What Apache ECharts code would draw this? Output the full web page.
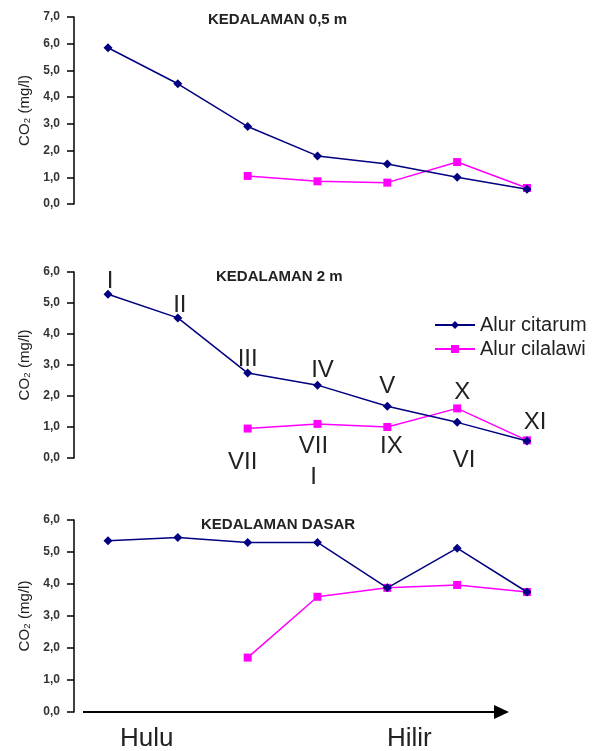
<!DOCTYPE html>
<html><head><meta charset="utf-8">
<script src="https://cdn.jsdelivr.net/npm/echarts@6/dist/echarts.min.js"></script>
<style>html,body{margin:0;padding:0;background:#fff}#c{width:597px;height:751px}</style>
</head><body><div id="c"></div>
<script>
const stations = ['1','2','3','4','5','6','7'];
const panelTitles = ['KEDALAMAN 0,5 m', 'KEDALAMAN 2 m', 'KEDALAMAN DASAR'];
const seriesNames = ['Alur citarum', 'Alur cilalawi'];
const yAxisName = 'CO\u2082 (mg/l)';
const yMax = [7, 6, 6];
const citarum05 = [5.85, 4.5, 2.9, 1.8, 1.5, 1.0, 0.55];
const cilalawi05 = [null, null, 1.05, 0.85, 0.8, 1.57, 0.6];
const citarum2 = [5.28, 4.52, 2.74, 2.35, 1.67, 1.15, 0.55];
const cilalawi2 = [null, null, 0.95, 1.1, 1.0, 1.6, 0.57];
const citarumDasar = [5.35, 5.45, 5.3, 5.3, 3.88, 5.12, 3.75];
const cilalawiDasar = [null, null, 1.7, 3.6, 3.88, 3.97, 3.75];
const romanCitarum2 = ['I', 'II', 'III', 'IV', 'V', 'VI', ''];
const romanCilalawi2 = ['', '', 'VII', 'VII\nI', 'IX', 'X', 'XI'];
const flowLabels = ['Hulu', 'Hilir'];

const BLUE = '#000080', PINK = '#ff00ff';
const grids = [
  {left: 108, right: 70, top: 17, height: 187},
  {left: 108, right: 70, top: 272, height: 186},
  {left: 108, right: 70, top: 520, height: 192}
];
const fmt = v => v.toFixed(1).replace('.', ',');

const xAxes = grids.map((g, i) => ({
  gridIndex: i, type: 'category', data: stations, boundaryGap: false, show: false
}));
const yAxes = grids.map((g, i) => ({
  gridIndex: i, type: 'value', min: 0, max: yMax[i], interval: 1, offset: 34,
  name: yAxisName, nameLocation: 'middle', nameGap: 42,
  nameTextStyle: {fontFamily: 'Liberation Sans', fontSize: 15, color: '#222'},
  axisLine: {show: true, lineStyle: {color: '#000', width: 1.5}},
  axisTick: {show: true, length: 7, lineStyle: {color: '#000', width: 1.5}},
  axisLabel: {formatter: fmt, fontFamily: 'Liberation Sans', fontSize: 12, fontWeight: 'bold', color: '#333', margin: 14},
  splitLine: {show: false}
}));

const romanStyle = {fontFamily: 'Liberation Sans', fontSize: 24, color: '#222', lineHeight: 31};
function withLabels(vals, labels, pos) {
  return vals.map((v, i) => {
    if (!labels || !labels[i] || v == null) return v;
    const p = pos[i] || {};
    return {value: v, label: Object.assign({show: true, formatter: labels[i]}, romanStyle, p)};
  });
}
const citPos = [
  {position: 'top', distance: -7, offset: [2, 0]},
  {position: 'top', distance: -7, offset: [2, 0]},
  {position: 'top', distance: -6},
  {position: 'top', distance: -5, offset: [5, 0]},
  {position: 'top', distance: 0},
  {position: 'bottom', distance: 18, offset: [7, 0]}
];
const cilPos = [
  null, null,
  {position: 'bottom', distance: 14, offset: [-5, 0]},
  {position: 'bottom', distance: 3, offset: [-4, 0]},
  {position: 'bottom', distance: 0, offset: [4, 0]},
  {position: 'top', distance: -3, offset: [5, 0]},
  {position: 'top', distance: -2, offset: [8, 0]}
];

function mk(name, data, gi) {
  const isBlue = name === seriesNames[0];
  return {
    name, type: 'line', xAxisIndex: gi, yAxisIndex: gi, data,
    symbol: isBlue ? 'diamond' : 'rect', symbolSize: isBlue ? 9 : 8,
    showAllSymbol: true, connectNulls: false,
    lineStyle: {color: isBlue ? BLUE : PINK, width: 1.5},
    itemStyle: {color: isBlue ? BLUE : PINK},
    emphasis: {disabled: true}, animation: false, z: isBlue ? 3 : 2
  };
}

const option = {
  backgroundColor: '#fff',
  animation: false,
  title: panelTitles.map((t, i) => ({
    text: t, left: [208, 216, 201][i], top: [12, 269, 517][i], padding: 0,
    textStyle: {fontFamily: 'Liberation Sans', fontSize: 15, fontWeight: 'bold', color: '#222'}
  })),
  legend: {
    data: seriesNames, orient: 'vertical', left: 434, top: 315, itemGap: 4,
    itemWidth: 40, itemHeight: 10, padding: 0,
    textStyle: {fontFamily: 'Liberation Sans', fontSize: 20, color: '#222'}
  },
  grid: grids,
  xAxis: xAxes,
  yAxis: yAxes,
  series: [
    mk(seriesNames[0], citarum05, 0),
    mk(seriesNames[1], cilalawi05, 0),
    mk(seriesNames[0], withLabels(citarum2, romanCitarum2, citPos), 1),
    mk(seriesNames[1], withLabels(cilalawi2, romanCilalawi2, cilPos), 1),
    mk(seriesNames[0], citarumDasar, 2),
    mk(seriesNames[1], cilalawiDasar, 2)
  ],
  graphic: [
    {type: 'line', shape: {x1: 83, y1: 712, x2: 496, y2: 712}, style: {stroke: '#000', lineWidth: 2}},
    {type: 'polygon', shape: {points: [[494, 705], [509, 712], [494, 719]]}, style: {fill: '#000'}},
    {type: 'text', x: 120, y: 739, style: {text: flowLabels[0], fontFamily: 'Liberation Sans', fontSize: 26, fill: '#222', verticalAlign: 'middle'}},
    {type: 'text', x: 387, y: 739, style: {text: flowLabels[1], fontFamily: 'Liberation Sans', fontSize: 26, fill: '#222', verticalAlign: 'middle'}}
  ]
};
const chart = echarts.init(document.getElementById('c'), null, {renderer: 'canvas'});
chart.setOption(option);
</script></body></html>
